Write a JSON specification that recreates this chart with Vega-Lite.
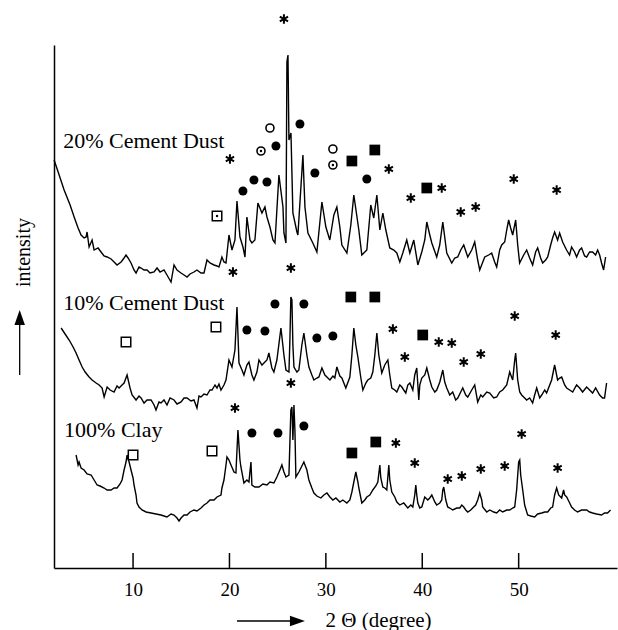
{
"$schema": "https://vega.github.io/schema/vega-lite/v6.json",
"width": 563, "height": 523, "autosize": "none",
"padding": {"left": 54, "top": 45, "right": 1, "bottom": 62},
"background": "white",
"config": {"view": {"stroke": null}},
"datasets": {
"traces": [
{"s":"a","x":1.81,"y":408},{"s":"a","x":2.23,"y":396},{"s":"a","x":2.85,"y":378},{"s":"a","x":3.47,"y":363},{"s":"a","x":3.89,"y":351},{"s":"a","x":4.30,"y":340},{"s":"a","x":4.61,"y":333},{"s":"a","x":4.92,"y":330},{"s":"a","x":5.13,"y":331},{"s":"a","x":5.23,"y":336},{"s":"a","x":5.44,"y":321},{"s":"a","x":5.75,"y":328},{"s":"a","x":5.96,"y":318},{"s":"a","x":6.37,"y":320},{"s":"a","x":6.68,"y":316},{"s":"a","x":6.99,"y":312},{"s":"a","x":7.31,"y":311},{"s":"a","x":7.72,"y":309},{"s":"a","x":8.03,"y":306},{"s":"a","x":8.34,"y":303},{"s":"a","x":8.76,"y":306},{"s":"a","x":9.07,"y":310},{"s":"a","x":9.27,"y":313},{"s":"a","x":9.48,"y":310},{"s":"a","x":9.79,"y":305},{"s":"a","x":10.10,"y":298},{"s":"a","x":10.31,"y":295},{"s":"a","x":10.62,"y":301},{"s":"a","x":10.83,"y":300},{"s":"a","x":11.14,"y":298},{"s":"a","x":11.45,"y":298},{"s":"a","x":11.76,"y":295},{"s":"a","x":12.18,"y":296},{"s":"a","x":12.49,"y":300},{"s":"a","x":12.80,"y":296},{"s":"a","x":13.21,"y":298},{"s":"a","x":13.52,"y":293},{"s":"a","x":13.94,"y":286},{"s":"a","x":14.25,"y":303},{"s":"a","x":14.56,"y":298},{"s":"a","x":14.97,"y":295},{"s":"a","x":15.29,"y":293},{"s":"a","x":15.60,"y":291},{"s":"a","x":15.91,"y":294},{"s":"a","x":16.32,"y":296},{"s":"a","x":16.63,"y":298},{"s":"a","x":17.05,"y":295},{"s":"a","x":17.36,"y":295},{"s":"a","x":17.67,"y":308},{"s":"a","x":17.98,"y":305},{"s":"a","x":18.40,"y":303},{"s":"a","x":18.71,"y":302},{"s":"a","x":18.91,"y":301},{"s":"a","x":19.22,"y":311},{"s":"a","x":19.43,"y":306},{"s":"a","x":19.64,"y":305},{"s":"a","x":19.95,"y":333},{"s":"a","x":20.26,"y":318},{"s":"a","x":20.57,"y":328},{"s":"a","x":20.78,"y":367},{"s":"a","x":21.09,"y":331},{"s":"a","x":21.40,"y":321},{"s":"a","x":21.61,"y":311},{"s":"a","x":21.81,"y":351},{"s":"a","x":22.13,"y":328},{"s":"a","x":22.33,"y":325},{"s":"a","x":22.64,"y":328},{"s":"a","x":22.95,"y":365},{"s":"a","x":23.37,"y":355},{"s":"a","x":23.68,"y":361},{"s":"a","x":23.89,"y":351},{"s":"a","x":24.20,"y":341},{"s":"a","x":24.51,"y":328},{"s":"a","x":24.72,"y":325},{"s":"a","x":25.13,"y":393},{"s":"a","x":25.55,"y":361},{"s":"a","x":25.65,"y":335},{"s":"a","x":25.86,"y":325},{"s":"a","x":25.96,"y":506},{"s":"a","x":26.07,"y":513},{"s":"a","x":26.17,"y":428},{"s":"a","x":26.38,"y":435},{"s":"a","x":26.58,"y":355},{"s":"a","x":27.00,"y":336},{"s":"a","x":27.10,"y":333},{"s":"a","x":27.62,"y":413},{"s":"a","x":27.83,"y":361},{"s":"a","x":28.14,"y":335},{"s":"a","x":28.65,"y":325},{"s":"a","x":29.07,"y":316},{"s":"a","x":29.59,"y":366},{"s":"a","x":30.00,"y":341},{"s":"a","x":30.41,"y":328},{"s":"a","x":30.83,"y":353},{"s":"a","x":31.14,"y":361},{"s":"a","x":31.45,"y":341},{"s":"a","x":31.66,"y":323},{"s":"a","x":32.18,"y":315},{"s":"a","x":32.59,"y":343},{"s":"a","x":32.90,"y":373},{"s":"a","x":33.42,"y":338},{"s":"a","x":33.73,"y":313},{"s":"a","x":34.04,"y":316},{"s":"a","x":34.25,"y":318},{"s":"a","x":34.66,"y":363},{"s":"a","x":34.97,"y":350},{"s":"a","x":35.29,"y":373},{"s":"a","x":35.60,"y":338},{"s":"a","x":35.91,"y":355},{"s":"a","x":36.22,"y":338},{"s":"a","x":36.63,"y":320},{"s":"a","x":37.05,"y":318},{"s":"a","x":37.36,"y":315},{"s":"a","x":37.67,"y":306},{"s":"a","x":37.98,"y":315},{"s":"a","x":38.39,"y":328},{"s":"a","x":38.71,"y":315},{"s":"a","x":39.12,"y":328},{"s":"a","x":39.54,"y":303},{"s":"a","x":39.95,"y":316},{"s":"a","x":40.26,"y":328},{"s":"a","x":40.47,"y":346},{"s":"a","x":40.78,"y":333},{"s":"a","x":40.99,"y":325},{"s":"a","x":41.50,"y":311},{"s":"a","x":41.81,"y":323},{"s":"a","x":42.13,"y":346},{"s":"a","x":42.54,"y":315},{"s":"a","x":43.06,"y":305},{"s":"a","x":43.37,"y":310},{"s":"a","x":43.68,"y":311},{"s":"a","x":43.99,"y":318},{"s":"a","x":44.30,"y":323},{"s":"a","x":44.72,"y":311},{"s":"a","x":45.13,"y":318},{"s":"a","x":45.44,"y":326},{"s":"a","x":45.75,"y":308},{"s":"a","x":45.96,"y":298},{"s":"a","x":46.48,"y":311},{"s":"a","x":46.89,"y":313},{"s":"a","x":47.20,"y":315},{"s":"a","x":47.51,"y":306},{"s":"a","x":47.72,"y":301},{"s":"a","x":48.03,"y":318},{"s":"a","x":48.24,"y":323},{"s":"a","x":48.55,"y":326},{"s":"a","x":48.76,"y":338},{"s":"a","x":48.96,"y":348},{"s":"a","x":49.17,"y":340},{"s":"a","x":49.38,"y":333},{"s":"a","x":49.69,"y":348},{"s":"a","x":49.90,"y":323},{"s":"a","x":50.10,"y":305},{"s":"a","x":50.52,"y":313},{"s":"a","x":50.83,"y":318},{"s":"a","x":51.14,"y":310},{"s":"a","x":51.45,"y":303},{"s":"a","x":51.76,"y":316},{"s":"a","x":51.97,"y":320},{"s":"a","x":52.28,"y":310},{"s":"a","x":52.49,"y":305},{"s":"a","x":52.80,"y":308},{"s":"a","x":53.01,"y":311},{"s":"a","x":53.32,"y":323},{"s":"a","x":53.52,"y":330},{"s":"a","x":53.73,"y":336},{"s":"a","x":54.04,"y":328},{"s":"a","x":54.25,"y":335},{"s":"a","x":54.56,"y":326},{"s":"a","x":54.97,"y":318},{"s":"a","x":55.28,"y":313},{"s":"a","x":55.49,"y":321},{"s":"a","x":55.80,"y":316},{"s":"a","x":56.01,"y":311},{"s":"a","x":56.32,"y":318},{"s":"a","x":56.53,"y":320},{"s":"a","x":56.84,"y":312},{"s":"a","x":57.05,"y":311},{"s":"a","x":57.36,"y":316},{"s":"a","x":57.67,"y":316},{"s":"a","x":57.98,"y":313},{"s":"a","x":58.19,"y":318},{"s":"a","x":58.40,"y":313},{"s":"a","x":58.60,"y":305},{"s":"a","x":58.81,"y":298},{"s":"a","x":59.02,"y":311},
{"s":"b","x":2.54,"y":240},{"s":"b","x":2.95,"y":234},{"s":"b","x":3.37,"y":228},{"s":"b","x":3.78,"y":221},{"s":"b","x":4.09,"y":215},{"s":"b","x":4.40,"y":208},{"s":"b","x":4.72,"y":201},{"s":"b","x":5.03,"y":196},{"s":"b","x":5.44,"y":191},{"s":"b","x":5.75,"y":188},{"s":"b","x":6.17,"y":185},{"s":"b","x":6.48,"y":183},{"s":"b","x":6.79,"y":180},{"s":"b","x":7.00,"y":171},{"s":"b","x":7.31,"y":181},{"s":"b","x":7.62,"y":178},{"s":"b","x":8.03,"y":176},{"s":"b","x":8.34,"y":182},{"s":"b","x":8.55,"y":180},{"s":"b","x":8.86,"y":183},{"s":"b","x":9.07,"y":185},{"s":"b","x":9.38,"y":193},{"s":"b","x":9.69,"y":180},{"s":"b","x":9.90,"y":173},{"s":"b","x":10.31,"y":168},{"s":"b","x":10.62,"y":172},{"s":"b","x":10.83,"y":170},{"s":"b","x":11.14,"y":165},{"s":"b","x":11.45,"y":168},{"s":"b","x":11.87,"y":168},{"s":"b","x":12.18,"y":163},{"s":"b","x":12.38,"y":158},{"s":"b","x":12.69,"y":166},{"s":"b","x":12.90,"y":165},{"s":"b","x":13.21,"y":168},{"s":"b","x":13.52,"y":163},{"s":"b","x":13.84,"y":170},{"s":"b","x":14.25,"y":168},{"s":"b","x":14.56,"y":164},{"s":"b","x":14.98,"y":166},{"s":"b","x":15.29,"y":170},{"s":"b","x":15.60,"y":170},{"s":"b","x":16.01,"y":167},{"s":"b","x":16.32,"y":168},{"s":"b","x":16.63,"y":160},{"s":"b","x":16.84,"y":172},{"s":"b","x":17.05,"y":171},{"s":"b","x":17.36,"y":174},{"s":"b","x":17.67,"y":173},{"s":"b","x":17.98,"y":178},{"s":"b","x":18.19,"y":178},{"s":"b","x":18.50,"y":183},{"s":"b","x":18.71,"y":180},{"s":"b","x":18.91,"y":184},{"s":"b","x":19.12,"y":178},{"s":"b","x":19.43,"y":183},{"s":"b","x":19.64,"y":188},{"s":"b","x":19.95,"y":208},{"s":"b","x":20.26,"y":201},{"s":"b","x":20.57,"y":218},{"s":"b","x":20.78,"y":261},{"s":"b","x":20.99,"y":205},{"s":"b","x":21.30,"y":198},{"s":"b","x":21.50,"y":193},{"s":"b","x":21.81,"y":203},{"s":"b","x":22.02,"y":206},{"s":"b","x":22.33,"y":193},{"s":"b","x":22.54,"y":188},{"s":"b","x":22.85,"y":196},{"s":"b","x":23.06,"y":208},{"s":"b","x":23.37,"y":203},{"s":"b","x":23.58,"y":205},{"s":"b","x":23.89,"y":208},{"s":"b","x":24.09,"y":215},{"s":"b","x":24.40,"y":200},{"s":"b","x":24.61,"y":196},{"s":"b","x":24.92,"y":208},{"s":"b","x":25.34,"y":240},{"s":"b","x":25.65,"y":213},{"s":"b","x":25.86,"y":198},{"s":"b","x":26.17,"y":196},{"s":"b","x":26.27,"y":228},{"s":"b","x":26.37,"y":271},{"s":"b","x":26.48,"y":268},{"s":"b","x":26.58,"y":223},{"s":"b","x":26.69,"y":201},{"s":"b","x":27.00,"y":196},{"s":"b","x":27.20,"y":198},{"s":"b","x":27.51,"y":223},{"s":"b","x":27.72,"y":235},{"s":"b","x":28.03,"y":213},{"s":"b","x":28.24,"y":201},{"s":"b","x":28.55,"y":193},{"s":"b","x":28.76,"y":188},{"s":"b","x":29.07,"y":190},{"s":"b","x":29.28,"y":191},{"s":"b","x":29.59,"y":200},{"s":"b","x":29.90,"y":193},{"s":"b","x":30.21,"y":190},{"s":"b","x":30.42,"y":188},{"s":"b","x":30.73,"y":192},{"s":"b","x":30.93,"y":190},{"s":"b","x":31.14,"y":201},{"s":"b","x":31.45,"y":192},{"s":"b","x":31.66,"y":190},{"s":"b","x":32.07,"y":180},{"s":"b","x":32.49,"y":191},{"s":"b","x":32.70,"y":213},{"s":"b","x":32.90,"y":240},{"s":"b","x":33.11,"y":223},{"s":"b","x":33.32,"y":211},{"s":"b","x":33.63,"y":190},{"s":"b","x":33.84,"y":178},{"s":"b","x":34.15,"y":185},{"s":"b","x":34.35,"y":188},{"s":"b","x":34.66,"y":190},{"s":"b","x":34.87,"y":196},{"s":"b","x":35.08,"y":213},{"s":"b","x":35.29,"y":235},{"s":"b","x":35.49,"y":213},{"s":"b","x":35.80,"y":195},{"s":"b","x":36.11,"y":203},{"s":"b","x":36.43,"y":208},{"s":"b","x":36.63,"y":193},{"s":"b","x":36.84,"y":180},{"s":"b","x":37.15,"y":178},{"s":"b","x":37.36,"y":176},{"s":"b","x":37.67,"y":183},{"s":"b","x":37.88,"y":181},{"s":"b","x":38.08,"y":178},{"s":"b","x":38.29,"y":175},{"s":"b","x":38.50,"y":183},{"s":"b","x":38.71,"y":185},{"s":"b","x":39.02,"y":178},{"s":"b","x":39.22,"y":193},{"s":"b","x":39.43,"y":200},{"s":"b","x":39.64,"y":168},{"s":"b","x":39.74,"y":183},{"s":"b","x":39.95,"y":190},{"s":"b","x":40.26,"y":193},{"s":"b","x":40.47,"y":200},{"s":"b","x":40.78,"y":188},{"s":"b","x":40.99,"y":181},{"s":"b","x":41.30,"y":176},{"s":"b","x":41.50,"y":178},{"s":"b","x":41.82,"y":186},{"s":"b","x":42.13,"y":198},{"s":"b","x":42.33,"y":186},{"s":"b","x":42.54,"y":180},{"s":"b","x":42.85,"y":173},{"s":"b","x":43.16,"y":176},{"s":"b","x":43.47,"y":168},{"s":"b","x":43.68,"y":170},{"s":"b","x":43.99,"y":176},{"s":"b","x":44.20,"y":180},{"s":"b","x":44.51,"y":173},{"s":"b","x":44.72,"y":171},{"s":"b","x":45.13,"y":178},{"s":"b","x":45.44,"y":183},{"s":"b","x":45.75,"y":166},{"s":"b","x":46.07,"y":173},{"s":"b","x":46.27,"y":171},{"s":"b","x":46.69,"y":176},{"s":"b","x":47.00,"y":175},{"s":"b","x":47.41,"y":170},{"s":"b","x":47.72,"y":171},{"s":"b","x":48.03,"y":176},{"s":"b","x":48.34,"y":178},{"s":"b","x":48.76,"y":183},{"s":"b","x":49.07,"y":196},{"s":"b","x":49.38,"y":188},{"s":"b","x":49.59,"y":208},{"s":"b","x":49.69,"y":215},{"s":"b","x":49.90,"y":188},{"s":"b","x":50.11,"y":176},{"s":"b","x":50.31,"y":173},{"s":"b","x":50.62,"y":170},{"s":"b","x":50.83,"y":168},{"s":"b","x":51.14,"y":170},{"s":"b","x":51.45,"y":165},{"s":"b","x":51.66,"y":173},{"s":"b","x":51.87,"y":180},{"s":"b","x":52.18,"y":170},{"s":"b","x":52.39,"y":173},{"s":"b","x":52.70,"y":178},{"s":"b","x":52.90,"y":175},{"s":"b","x":53.22,"y":183},{"s":"b","x":53.42,"y":188},{"s":"b","x":53.73,"y":203},{"s":"b","x":54.04,"y":188},{"s":"b","x":54.25,"y":190},{"s":"b","x":54.46,"y":191},{"s":"b","x":54.77,"y":183},{"s":"b","x":54.98,"y":180},{"s":"b","x":55.29,"y":178},{"s":"b","x":55.60,"y":176},{"s":"b","x":56.01,"y":183},{"s":"b","x":56.32,"y":180},{"s":"b","x":56.63,"y":176},{"s":"b","x":57.05,"y":181},{"s":"b","x":57.36,"y":178},{"s":"b","x":57.67,"y":175},{"s":"b","x":57.98,"y":180},{"s":"b","x":58.40,"y":173},{"s":"b","x":58.71,"y":170},{"s":"b","x":58.91,"y":170},{"s":"b","x":59.12,"y":185},
{"s":"c","x":4.09,"y":113},{"s":"c","x":4.30,"y":103},{"s":"c","x":4.40,"y":106},{"s":"c","x":4.61,"y":100},{"s":"c","x":4.92,"y":98},{"s":"c","x":5.23,"y":94},{"s":"c","x":5.65,"y":93},{"s":"c","x":5.96,"y":88},{"s":"c","x":6.27,"y":83},{"s":"c","x":6.58,"y":82},{"s":"c","x":7.00,"y":80},{"s":"c","x":7.31,"y":78},{"s":"c","x":7.72,"y":78},{"s":"c","x":8.03,"y":80},{"s":"c","x":8.34,"y":80},{"s":"c","x":8.65,"y":84},{"s":"c","x":8.86,"y":88},{"s":"c","x":9.07,"y":98},{"s":"c","x":9.27,"y":106},{"s":"c","x":9.38,"y":113},{"s":"c","x":9.59,"y":106},{"s":"c","x":9.79,"y":98},{"s":"c","x":10.00,"y":90},{"s":"c","x":10.10,"y":83},{"s":"c","x":10.31,"y":73},{"s":"c","x":10.41,"y":65},{"s":"c","x":10.62,"y":61},{"s":"c","x":10.93,"y":58},{"s":"c","x":11.35,"y":56},{"s":"c","x":11.87,"y":55},{"s":"c","x":12.38,"y":54},{"s":"c","x":12.90,"y":53},{"s":"c","x":13.21,"y":52},{"s":"c","x":13.52,"y":51},{"s":"c","x":13.94,"y":54},{"s":"c","x":14.25,"y":53},{"s":"c","x":14.56,"y":50},{"s":"c","x":14.77,"y":47},{"s":"c","x":14.98,"y":50},{"s":"c","x":15.29,"y":53},{"s":"c","x":15.60,"y":53},{"s":"c","x":15.91,"y":56},{"s":"c","x":16.32,"y":58},{"s":"c","x":16.63,"y":57},{"s":"c","x":17.05,"y":60},{"s":"c","x":17.36,"y":63},{"s":"c","x":17.67,"y":65},{"s":"c","x":17.98,"y":68},{"s":"c","x":18.40,"y":68},{"s":"c","x":18.71,"y":71},{"s":"c","x":19.12,"y":73},{"s":"c","x":19.22,"y":80},{"s":"c","x":19.43,"y":88},{"s":"c","x":19.64,"y":103},{"s":"c","x":19.74,"y":111},{"s":"c","x":19.95,"y":108},{"s":"c","x":20.16,"y":103},{"s":"c","x":20.47,"y":96},{"s":"c","x":20.67,"y":95},{"s":"c","x":20.88,"y":138},{"s":"c","x":21.09,"y":108},{"s":"c","x":21.19,"y":101},{"s":"c","x":21.50,"y":85},{"s":"c","x":21.81,"y":88},{"s":"c","x":22.02,"y":86},{"s":"c","x":22.23,"y":106},{"s":"c","x":22.33,"y":83},{"s":"c","x":22.64,"y":81},{"s":"c","x":23.06,"y":81},{"s":"c","x":23.47,"y":84},{"s":"c","x":23.89,"y":83},{"s":"c","x":24.20,"y":86},{"s":"c","x":24.61,"y":85},{"s":"c","x":24.92,"y":91},{"s":"c","x":25.23,"y":98},{"s":"c","x":25.44,"y":103},{"s":"c","x":25.65,"y":96},{"s":"c","x":25.86,"y":91},{"s":"c","x":26.17,"y":93},{"s":"c","x":26.37,"y":158},{"s":"c","x":26.48,"y":161},{"s":"c","x":26.58,"y":128},{"s":"c","x":26.69,"y":163},{"s":"c","x":26.79,"y":138},{"s":"c","x":26.89,"y":91},{"s":"c","x":27.20,"y":96},{"s":"c","x":27.41,"y":100},{"s":"c","x":27.72,"y":106},{"s":"c","x":28.03,"y":98},{"s":"c","x":28.24,"y":88},{"s":"c","x":28.55,"y":80},{"s":"c","x":28.76,"y":75},{"s":"c","x":29.07,"y":72},{"s":"c","x":29.48,"y":70},{"s":"c","x":29.79,"y":73},{"s":"c","x":30.11,"y":75},{"s":"c","x":30.42,"y":71},{"s":"c","x":30.73,"y":68},{"s":"c","x":31.04,"y":70},{"s":"c","x":31.45,"y":66},{"s":"c","x":31.76,"y":68},{"s":"c","x":32.18,"y":65},{"s":"c","x":32.49,"y":68},{"s":"c","x":32.70,"y":76},{"s":"c","x":32.90,"y":86},{"s":"c","x":33.11,"y":96},{"s":"c","x":33.32,"y":86},{"s":"c","x":33.42,"y":80},{"s":"c","x":33.73,"y":65},{"s":"c","x":34.04,"y":68},{"s":"c","x":34.25,"y":71},{"s":"c","x":34.56,"y":73},{"s":"c","x":34.87,"y":78},{"s":"c","x":35.18,"y":82},{"s":"c","x":35.39,"y":86},{"s":"c","x":35.60,"y":103},{"s":"c","x":35.70,"y":90},{"s":"c","x":35.91,"y":81},{"s":"c","x":36.11,"y":80},{"s":"c","x":36.32,"y":78},{"s":"c","x":36.53,"y":103},{"s":"c","x":36.63,"y":88},{"s":"c","x":36.84,"y":76},{"s":"c","x":37.15,"y":71},{"s":"c","x":37.36,"y":66},{"s":"c","x":37.67,"y":63},{"s":"c","x":38.08,"y":65},{"s":"c","x":38.50,"y":60},{"s":"c","x":38.81,"y":63},{"s":"c","x":39.02,"y":61},{"s":"c","x":39.22,"y":73},{"s":"c","x":39.33,"y":83},{"s":"c","x":39.43,"y":73},{"s":"c","x":39.54,"y":65},{"s":"c","x":39.74,"y":60},{"s":"c","x":39.95,"y":61},{"s":"c","x":40.26,"y":71},{"s":"c","x":40.57,"y":68},{"s":"c","x":40.78,"y":70},{"s":"c","x":40.99,"y":73},{"s":"c","x":41.30,"y":66},{"s":"c","x":41.50,"y":63},{"s":"c","x":41.82,"y":65},{"s":"c","x":42.02,"y":68},{"s":"c","x":42.13,"y":78},{"s":"c","x":42.23,"y":81},{"s":"c","x":42.44,"y":68},{"s":"c","x":42.64,"y":61},{"s":"c","x":42.85,"y":60},{"s":"c","x":43.16,"y":58},{"s":"c","x":43.58,"y":60},{"s":"c","x":43.89,"y":60},{"s":"c","x":44.10,"y":63},{"s":"c","x":44.30,"y":61},{"s":"c","x":44.51,"y":58},{"s":"c","x":44.72,"y":56},{"s":"c","x":45.03,"y":58},{"s":"c","x":45.23,"y":60},{"s":"c","x":45.54,"y":63},{"s":"c","x":45.75,"y":68},{"s":"c","x":45.96,"y":75},{"s":"c","x":46.17,"y":68},{"s":"c","x":46.27,"y":61},{"s":"c","x":46.69,"y":56},{"s":"c","x":47.00,"y":58},{"s":"c","x":47.41,"y":56},{"s":"c","x":47.72,"y":55},{"s":"c","x":48.03,"y":58},{"s":"c","x":48.34,"y":56},{"s":"c","x":48.76,"y":58},{"s":"c","x":49.07,"y":58},{"s":"c","x":49.38,"y":60},{"s":"c","x":49.59,"y":61},{"s":"c","x":49.79,"y":78},{"s":"c","x":50.00,"y":106},{"s":"c","x":50.11,"y":108},{"s":"c","x":50.21,"y":93},{"s":"c","x":50.42,"y":78},{"s":"c","x":50.62,"y":63},{"s":"c","x":50.93,"y":53},{"s":"c","x":51.25,"y":52},{"s":"c","x":51.66,"y":51},{"s":"c","x":51.97,"y":54},{"s":"c","x":52.39,"y":55},{"s":"c","x":52.70,"y":56},{"s":"c","x":53.01,"y":56},{"s":"c","x":53.32,"y":60},{"s":"c","x":53.52,"y":61},{"s":"c","x":53.73,"y":73},{"s":"c","x":53.94,"y":80},{"s":"c","x":54.15,"y":73},{"s":"c","x":54.46,"y":70},{"s":"c","x":54.66,"y":78},{"s":"c","x":54.77,"y":73},{"s":"c","x":54.98,"y":71},{"s":"c","x":55.29,"y":65},{"s":"c","x":55.49,"y":61},{"s":"c","x":55.80,"y":58},{"s":"c","x":56.11,"y":56},{"s":"c","x":56.53,"y":58},{"s":"c","x":57.05,"y":58},{"s":"c","x":57.36,"y":56},{"s":"c","x":57.67,"y":55},{"s":"c","x":58.08,"y":54},{"s":"c","x":58.60,"y":53},{"s":"c","x":58.91,"y":55},{"s":"c","x":59.22,"y":55},{"s":"c","x":59.53,"y":58}
],
"markers": [
{"m":"ast","x":25.65,"y":549},{"m":"oc","x":24.20,"y":440},{"m":"fc","x":27.31,"y":444},{"m":"dc","x":23.27,"y":417},{"m":"fc","x":24.82,"y":422},{"m":"ast","x":20.05,"y":409},{"m":"fc","x":22.54,"y":388},{"m":"fc","x":23.89,"y":386},{"m":"fc","x":21.40,"y":377},{"m":"fc","x":28.86,"y":395},{"m":"ds","x":18.71,"y":352},{"m":"ast","x":20.36,"y":296},{"m":"ast","x":26.37,"y":300},{"m":"oc","x":30.73,"y":419},{"m":"dc","x":30.73,"y":403},{"m":"fs","x":32.70,"y":407},{"m":"fs","x":35.08,"y":418},{"m":"fc","x":34.25,"y":389},{"m":"ast","x":36.53,"y":399},{"m":"ast","x":38.81,"y":370},{"m":"fs","x":40.47,"y":380},{"m":"ast","x":42.02,"y":380},{"m":"ast","x":43.99,"y":356},{"m":"ast","x":45.54,"y":361},{"m":"ast","x":49.49,"y":389},{"m":"ast","x":53.94,"y":378},
{"m":"fc","x":24.72,"y":264},{"m":"fc","x":27.72,"y":264},{"m":"fs","x":32.59,"y":271},{"m":"fs","x":35.08,"y":271},{"m":"os","x":9.27,"y":226},{"m":"os","x":18.60,"y":241},{"m":"fc","x":21.81,"y":238},{"m":"fc","x":23.68,"y":237},{"m":"ast","x":26.37,"y":185},{"m":"fc","x":29.07,"y":230},{"m":"fc","x":30.73,"y":232},{"m":"ast","x":36.95,"y":239},{"m":"ast","x":38.19,"y":211},{"m":"fs","x":40.05,"y":233},{"m":"ast","x":41.71,"y":226},{"m":"ast","x":43.06,"y":225},{"m":"ast","x":44.30,"y":206},{"m":"ast","x":46.07,"y":214},{"m":"ast","x":49.59,"y":252},{"m":"ast","x":53.84,"y":233},
{"m":"ast","x":20.57,"y":160},{"m":"os","x":10.00,"y":113},{"m":"os","x":18.19,"y":117},{"m":"fc","x":22.33,"y":135},{"m":"fc","x":25.03,"y":135},{"m":"fc","x":27.72,"y":142},{"m":"fs","x":32.70,"y":115},{"m":"fs","x":35.18,"y":126},{"m":"ast","x":37.26,"y":125},{"m":"ast","x":39.22,"y":105},{"m":"ast","x":42.64,"y":89},{"m":"ast","x":44.10,"y":92},{"m":"ast","x":46.07,"y":99},{"m":"ast","x":48.55,"y":102},{"m":"ast","x":50.31,"y":134},{"m":"ast","x":54.04,"y":100}
],
"labels": [
{"t":"20% Cement Dust","x":2.75,"y":420},
{"t":"10% Cement Dust","x":2.75,"y":258},
{"t":"100% Clay","x":2.85,"y":131}
],
"ticks": [{"x":10,"y":0,"y2":15},{"x":20,"y":0,"y2":15},{"x":30,"y":0,"y2":15},{"x":40,"y":0,"y2":15},{"x":50,"y":0,"y2":15}],
"harrow": [{"x":20.78,"x2":27.05,"y":-53}],
"varrow": [{"x":-1.76,"y":193,"y2":250.5}]
},
"encoding": {
"x": {"field":"x","type":"quantitative","scale":{"domain":[1.8,60.2],"nice":false,"zero":false},
 "axis":{"values":[10,20,30,40,50],"title":"2 Θ (degree)","grid":false,"ticks":false,"domainColor":"black","domainWidth":1.6,"labelFont":"Liberation Serif","labelFontSize":19,"labelColor":"black","labelBaseline":"alphabetic","labelPadding":27,"labelFlush":false,"labelOverlap":false,"titleFont":"Liberation Serif","titleFontSize":21,"titleFontWeight":"normal","titleColor":"black","titleX":271,"titleY":58,"titleAlign":"left","titleBaseline":"alphabetic","titleAnchor":null}},
"y": {"field":"y","type":"quantitative","scale":{"domain":[0,523],"nice":false,"zero":false},
 "axis":{"ticks":false,"labels":false,"grid":false,"domainColor":"black","domainWidth":1.5,"title":"intensity","titleFont":"Liberation Serif","titleFontSize":20,"titleFontWeight":"normal","titleColor":"black","titleAngle":270,"titleX":-25,"titleY":207,"titleAlign":"center","titleBaseline":"alphabetic"}}
},
"layer": [
{"data":{"name":"traces"},"mark":{"type":"line","color":"black","strokeWidth":1.4,"clip":false},"encoding":{"detail":{"field":"s"}}},
{"data":{"name":"ticks"},"mark":{"type":"rule","color":"black","strokeWidth":1.5},"encoding":{"y2":{"field":"y2"}}},
{"data":{"name":"markers"},"transform":[{"filter":"datum.m=='fc'"}],"mark":{"type":"point","shape":"circle","filled":true,"color":"black","size":81,"opacity":1}},
{"data":{"name":"markers"},"transform":[{"filter":"datum.m=='oc'||datum.m=='dc'"}],"mark":{"type":"point","shape":"circle","filled":false,"color":"black","strokeWidth":1.6,"size":64,"opacity":1}},
{"data":{"name":"markers"},"transform":[{"filter":"datum.m=='dc'||datum.m=='ds'"}],"mark":{"type":"point","shape":"circle","filled":true,"color":"black","size":6,"opacity":1}},
{"data":{"name":"markers"},"transform":[{"filter":"datum.m=='fs'"}],"mark":{"type":"point","shape":"square","filled":true,"color":"black","size":115,"opacity":1}},
{"data":{"name":"markers"},"transform":[{"filter":"datum.m=='os'||datum.m=='ds'"}],"mark":{"type":"point","shape":"square","filled":false,"color":"black","strokeWidth":1.5,"size":90,"opacity":1}},
{"data":{"name":"markers"},"transform":[{"filter":"datum.m=='ast'"}],"mark":{"type":"point","shape":"M0,-1L0,1M-0.87,-0.5L0.87,0.5M-0.87,0.5L0.87,-0.5","filled":false,"color":"black","strokeWidth":2,"size":90,"opacity":1}},
{"data":{"name":"labels"},"mark":{"type":"text","align":"left","baseline":"alphabetic","font":"Liberation Serif","fontSize":22,"color":"black"},"encoding":{"text":{"field":"t"}}},
{"data":{"name":"harrow"},"mark":{"type":"rule","color":"black","strokeWidth":1.3},"encoding":{"x2":{"field":"x2"}}},
{"data":{"name":"harrow"},"mark":{"type":"point","shape":"M1,0L-1,0.7L-1,-0.7Z","filled":true,"color":"black","size":225,"opacity":1},"encoding":{"x":{"field":"x2","type":"quantitative"}}},
{"data":{"name":"varrow"},"mark":{"type":"rule","color":"black","strokeWidth":1.3},"encoding":{"y2":{"field":"y2"}}},
{"data":{"name":"varrow"},"mark":{"type":"point","shape":"M0,-1L0.7,1L-0.7,1Z","filled":true,"color":"black","size":225,"opacity":1},"encoding":{"y":{"field":"y2","type":"quantitative"}}}
]
}
